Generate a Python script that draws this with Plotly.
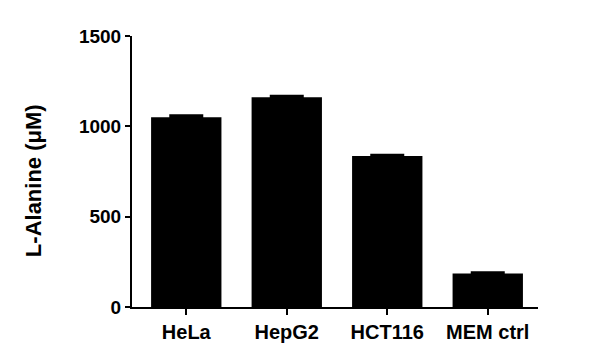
import plotly.graph_objects as go

categories = ["HeLa", "HepG2", "HCT116", "MEM ctrl"]
values = [1050, 1161, 836, 185]
errors = [12, 8, 7, 8]
y_ticks = [0, 500, 1000, 1500]

FONT = "Liberation Sans, Arial, sans-serif"

fig = go.Figure(go.Bar(
    x=categories, y=values, width=0.7,
    marker=dict(color="black", line=dict(width=0)),
    error_y=dict(type="data", array=errors, symmetric=False, arrayminus=[0]*4,
                 color="black", thickness=2, width=17, visible=True),
))

fig.update_layout(
    width=600, height=357,
    margin=dict(l=132, r=62, t=36, b=50),
    paper_bgcolor="white", plot_bgcolor="white",
    showlegend=False,
    font=dict(family=FONT, color="black"),
    annotations=[dict(
        text="L-Alanine (μM)", textangle=-90, xref="paper", yref="paper",
        x=-0.241, y=0.465, xanchor="center", yanchor="middle", showarrow=False,
        font=dict(family=FONT, size=22, color="black", weight="bold"),
    )],
)
fig.update_xaxes(
    range=[-0.54, 3.5], showline=True, linecolor="black", linewidth=2,
    ticks="outside", ticklen=6, tickwidth=2, tickcolor="black",
    tickfont=dict(family=FONT, size=20, color="black", weight="bold"),
    showgrid=False, zeroline=False,
)
fig.update_yaxes(
    range=[0, 1500], tickvals=y_ticks, ticktext=[str(v) for v in y_ticks],
    showline=True, linecolor="black", linewidth=2,
    ticks="outside", ticklen=5, tickwidth=2, tickcolor="black",
    tickfont=dict(family=FONT, size=19, color="black", weight="bold"),
    showgrid=False, zeroline=False,
)

fig.write_html("out.html", config={"displayModeBar": False},
               post_script="document.body.style.margin='0px';")
